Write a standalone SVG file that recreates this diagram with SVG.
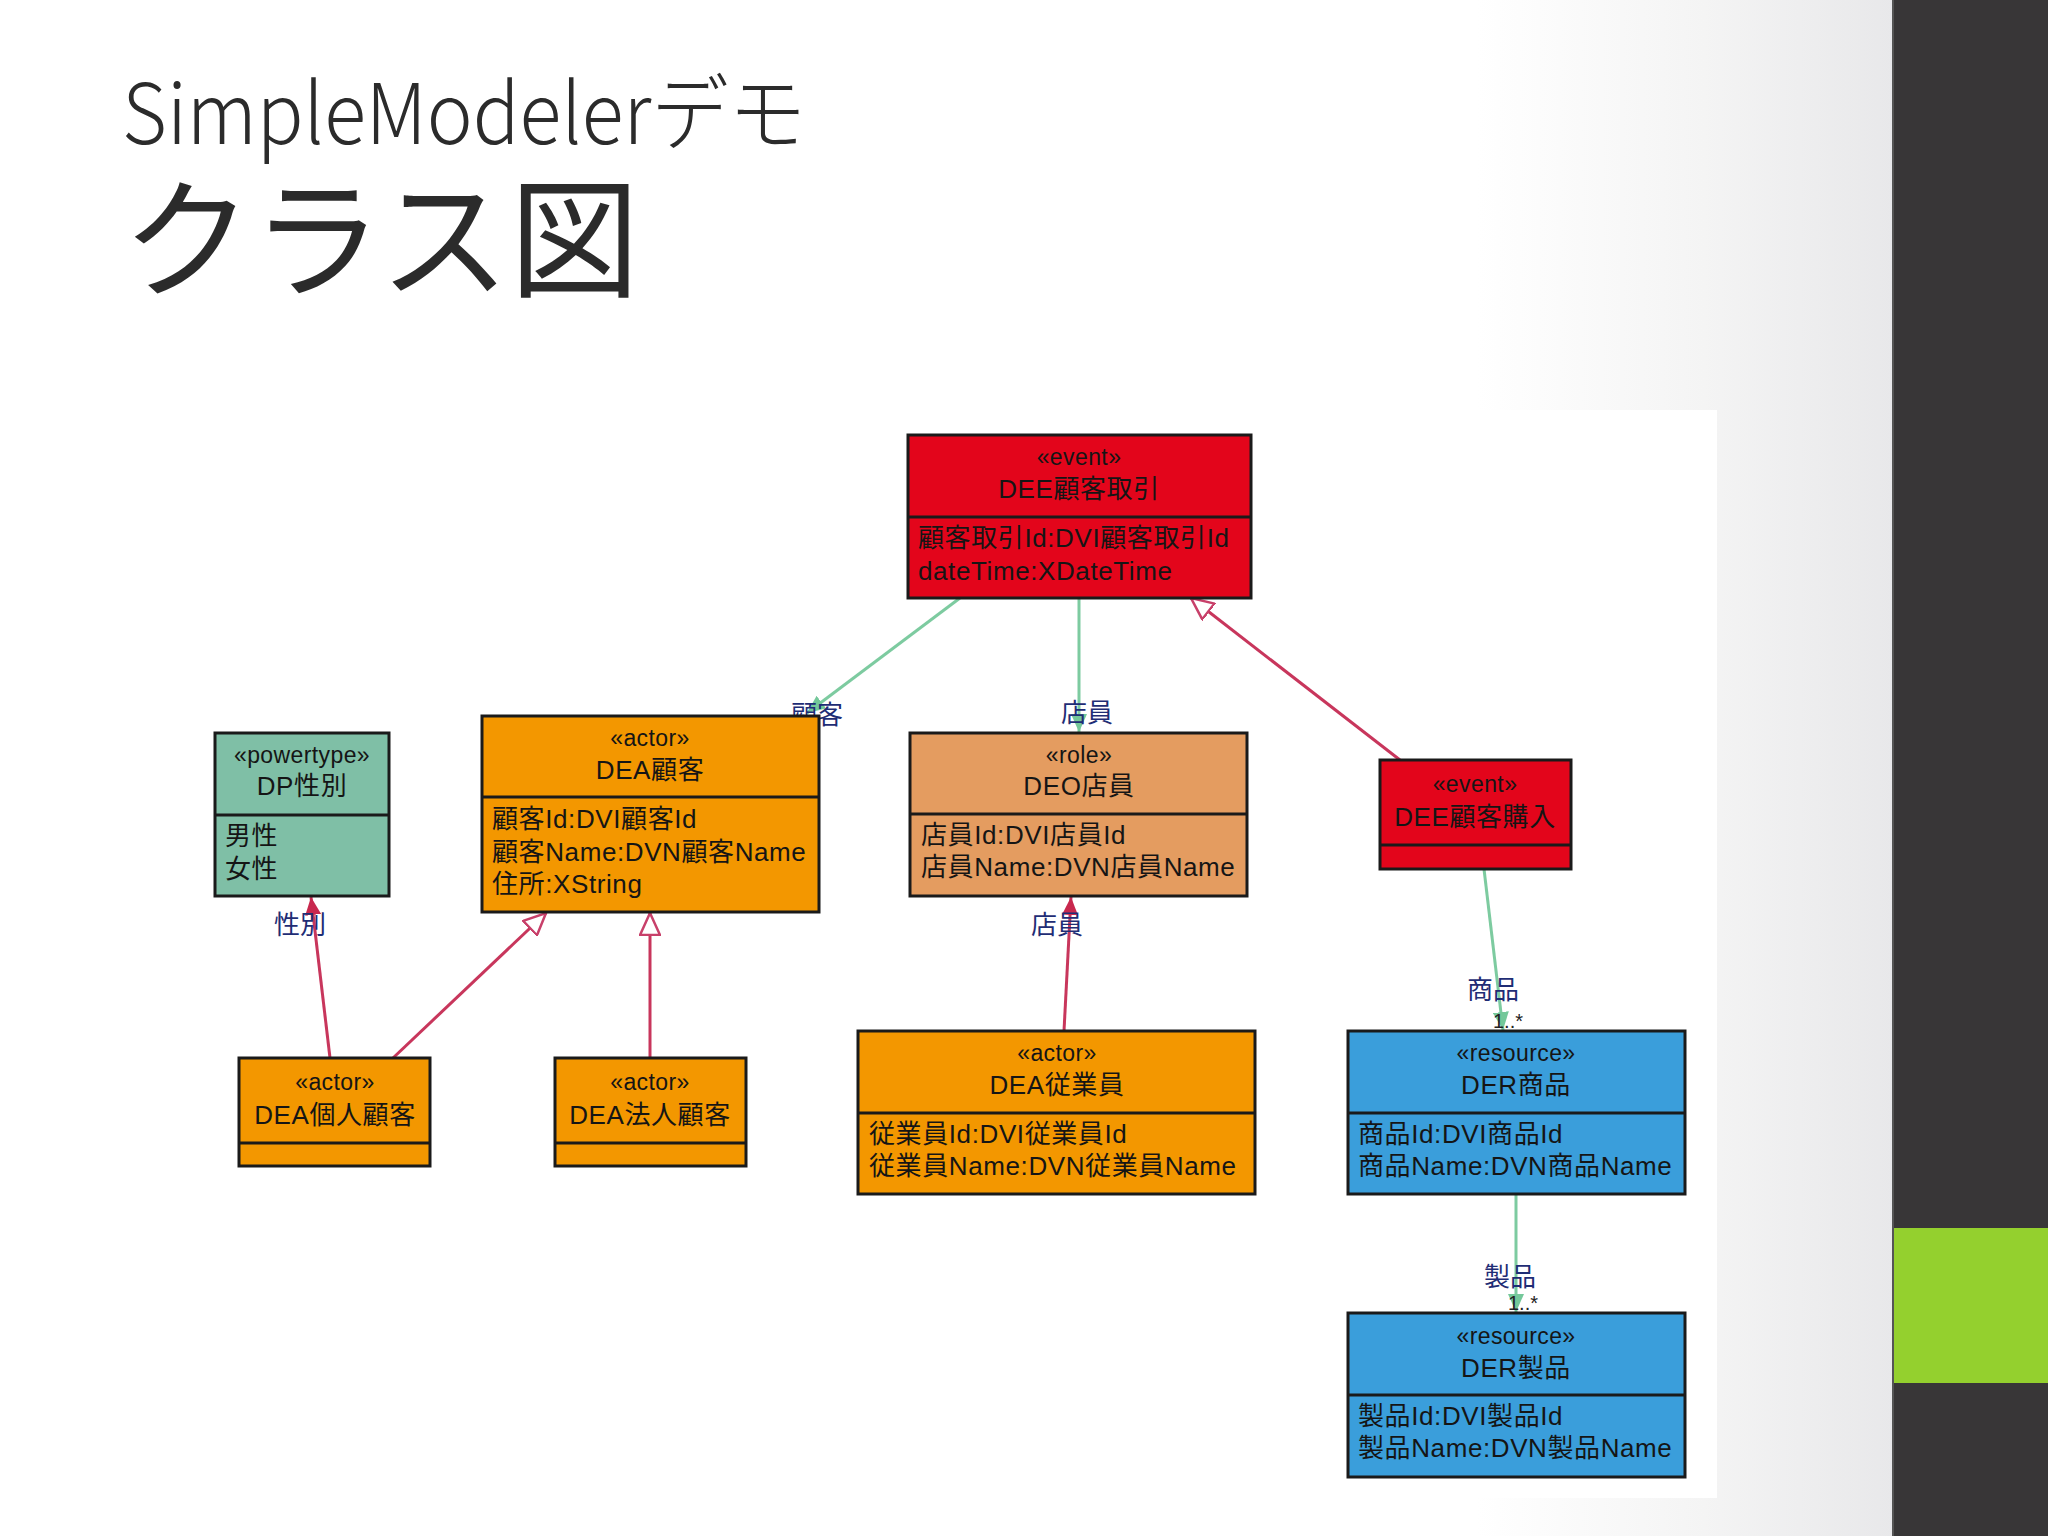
<svg xmlns="http://www.w3.org/2000/svg" width="2048" height="1536" viewBox="0 0 2048 1536">
<defs>
<linearGradient id="bg" x1="0" y1="0" x2="1894" y2="0" gradientUnits="userSpaceOnUse">
<stop offset="0" stop-color="#ffffff"/>
<stop offset="0.78" stop-color="#ffffff"/>
<stop offset="0.9" stop-color="#f4f4f4"/>
<stop offset="1" stop-color="#e8e8ea"/>
</linearGradient>
<marker id="arrG" viewBox="0 0 18 16" refX="18" refY="8" markerWidth="18" markerHeight="16" markerUnits="userSpaceOnUse" orient="auto">
<path d="M0,0 L18,8 L0,16 Z" fill="#74c89a"/>
</marker>
<marker id="arrR" viewBox="0 0 18 16" refX="18" refY="8" markerWidth="18" markerHeight="16" markerUnits="userSpaceOnUse" orient="auto">
<path d="M0,0 L18,8 L0,16 Z" fill="#c8284e"/>
</marker>
<marker id="gen" viewBox="0 0 24 22" refX="23" refY="11" markerWidth="24" markerHeight="22" markerUnits="userSpaceOnUse" orient="auto">
<path d="M1,1 L23,11 L1,21 Z" fill="#ffffff" stroke="#c8406a" stroke-width="2.5"/>
</marker>
</defs>
<style>
.box{stroke:#1a1a1a;stroke-width:3}
.div{stroke:#1a1a1a;stroke-width:3}
.red{fill:#e3051b}
.org{fill:#f39700}
.tan{fill:#e49c60}
.teal{fill:#7fbfa6}
.blue{fill:#3a9edb}
.t{font-family:"Liberation Sans","Noto Sans CJK JP",sans-serif;fill:#151515}
.st{font-size:23px;text-anchor:middle;letter-spacing:0.4px}
.nm{font-size:26px;text-anchor:middle;letter-spacing:0.6px}
.at{font-size:26px;letter-spacing:0.6px}
.lbl{font-family:"Liberation Sans","Noto Sans CJK JP",sans-serif;font-size:26px;fill:#1f2d75}
.mul{font-family:"Liberation Sans",sans-serif;font-size:20px;fill:#222}
.g{stroke:#7dcba0;stroke-width:3;fill:none}
.r{stroke:#c8365c;stroke-width:3;fill:none}
.title{font-family:"Noto Sans CJK JP","Noto Sans",sans-serif;fill:#2b2b2b}
</style>
<rect x="0" y="0" width="2048" height="1536" fill="url(#bg)"/>
<rect x="205" y="410" width="1512" height="1088" fill="#ffffff"/>
<rect x="1894" y="0" width="154" height="1536" fill="#383637"/>
<rect x="1894" y="1228" width="154" height="155" fill="#94d02e"/>
<line x1="1893" y1="0" x2="1893" y2="1536" stroke="#555" stroke-width="2"/>

<text class="title" x="122" y="144" font-size="84" font-weight="300" textLength="684" lengthAdjust="spacingAndGlyphs">SimpleModelerデモ</text>
<text class="title" x="122" y="287" font-size="130" font-weight="400">クラス図</text>

<g id="connectors">
<line class="g" x1="960" y1="598" x2="807" y2="713" marker-end="url(#arrG)"/>
<line class="g" x1="1079" y1="598" x2="1079" y2="732" marker-end="url(#arrG)"/>
<line class="r" x1="1400" y1="760" x2="1191" y2="598" marker-end="url(#gen)"/>
<line class="r" x1="330" y1="1058" x2="311" y2="897" marker-end="url(#arrR)"/>
<line class="r" x1="393" y1="1058" x2="546" y2="913" marker-end="url(#gen)"/>
<line class="r" x1="650" y1="1058" x2="650" y2="913" marker-end="url(#gen)"/>
<line class="r" x1="1064" y1="1031" x2="1071" y2="897" marker-end="url(#arrR)"/>
<line class="g" x1="1484" y1="869" x2="1503" y2="1030" marker-end="url(#arrG)"/>
<line class="g" x1="1516" y1="1195" x2="1516" y2="1312" marker-end="url(#arrG)"/>
<text class="lbl" x="791" y="724">顧客</text>
<text class="lbl" x="1061" y="722">店員</text>
<text class="lbl" x="274" y="934">性別</text>
<text class="lbl" x="1031" y="934">店員</text>
<text class="lbl" x="1467" y="999">商品</text>
<text class="mul" x="1493" y="1028">1..*</text>
<text class="lbl" x="1484" y="1286">製品</text>
<text class="mul" x="1508" y="1310">1..*</text>
</g>

<g id="DEE顧客取引">
<rect class="box red" x="908" y="435" width="343" height="163"/>
<line class="div" x1="908" y1="517" x2="1251" y2="517"/>
<text class="t st" x="1079" y="465">«event»</text>
<text class="t nm" x="1079" y="498">DEE顧客取引</text>
<text class="t at" x="918" y="547">顧客取引Id:DVI顧客取引Id</text>
<text class="t at" x="918" y="580">dateTime:XDateTime</text>
</g>

<g id="DP性別">
<rect class="box teal" x="215" y="733" width="174" height="163"/>
<line class="div" x1="215" y1="815" x2="389" y2="815"/>
<text class="t st" x="302" y="763">«powertype»</text>
<text class="t nm" x="302" y="795">DP性別</text>
<text class="t at" x="225" y="845">男性</text>
<text class="t at" x="225" y="878">女性</text>
</g>

<g id="DEA顧客">
<rect class="box org" x="482" y="716" width="337" height="196"/>
<line class="div" x1="482" y1="797" x2="819" y2="797"/>
<text class="t st" x="650" y="746">«actor»</text>
<text class="t nm" x="650" y="779">DEA顧客</text>
<text class="t at" x="492" y="828">顧客Id:DVI顧客Id</text>
<text class="t at" x="492" y="861">顧客Name:DVN顧客Name</text>
<text class="t at" x="492" y="893">住所:XString</text>
</g>

<g id="DEO店員">
<rect class="box tan" x="910" y="733" width="337" height="163"/>
<line class="div" x1="910" y1="814" x2="1247" y2="814"/>
<text class="t st" x="1079" y="763">«role»</text>
<text class="t nm" x="1079" y="795">DEO店員</text>
<text class="t at" x="921" y="844">店員Id:DVI店員Id</text>
<text class="t at" x="921" y="876">店員Name:DVN店員Name</text>
</g>

<g id="DEE顧客購入">
<rect class="box red" x="1380" y="760" width="191" height="109"/>
<line class="div" x1="1380" y1="845" x2="1571" y2="845"/>
<text class="t st" x="1475" y="792">«event»</text>
<text class="t nm" x="1475" y="826">DEE顧客購入</text>
</g>

<g id="DEA個人顧客">
<rect class="box org" x="239" y="1058" width="191" height="108"/>
<line class="div" x1="239" y1="1143" x2="430" y2="1143"/>
<text class="t st" x="335" y="1090">«actor»</text>
<text class="t nm" x="335" y="1124">DEA個人顧客</text>
</g>

<g id="DEA法人顧客">
<rect class="box org" x="555" y="1058" width="191" height="108"/>
<line class="div" x1="555" y1="1143" x2="746" y2="1143"/>
<text class="t st" x="650" y="1090">«actor»</text>
<text class="t nm" x="650" y="1124">DEA法人顧客</text>
</g>

<g id="DEA従業員">
<rect class="box org" x="858" y="1031" width="397" height="163"/>
<line class="div" x1="858" y1="1113" x2="1255" y2="1113"/>
<text class="t st" x="1057" y="1061">«actor»</text>
<text class="t nm" x="1057" y="1094">DEA従業員</text>
<text class="t at" x="869" y="1143">従業員Id:DVI従業員Id</text>
<text class="t at" x="869" y="1175">従業員Name:DVN従業員Name</text>
</g>

<g id="DER商品">
<rect class="box blue" x="1348" y="1031" width="337" height="163"/>
<line class="div" x1="1348" y1="1113" x2="1685" y2="1113"/>
<text class="t st" x="1516" y="1061">«resource»</text>
<text class="t nm" x="1516" y="1094">DER商品</text>
<text class="t at" x="1358" y="1143">商品Id:DVI商品Id</text>
<text class="t at" x="1358" y="1175">商品Name:DVN商品Name</text>
</g>

<g id="DER製品">
<rect class="box blue" x="1348" y="1313" width="337" height="164"/>
<line class="div" x1="1348" y1="1395" x2="1685" y2="1395"/>
<text class="t st" x="1516" y="1344">«resource»</text>
<text class="t nm" x="1516" y="1377">DER製品</text>
<text class="t at" x="1358" y="1425">製品Id:DVI製品Id</text>
<text class="t at" x="1358" y="1457">製品Name:DVN製品Name</text>
</g>
</svg>
